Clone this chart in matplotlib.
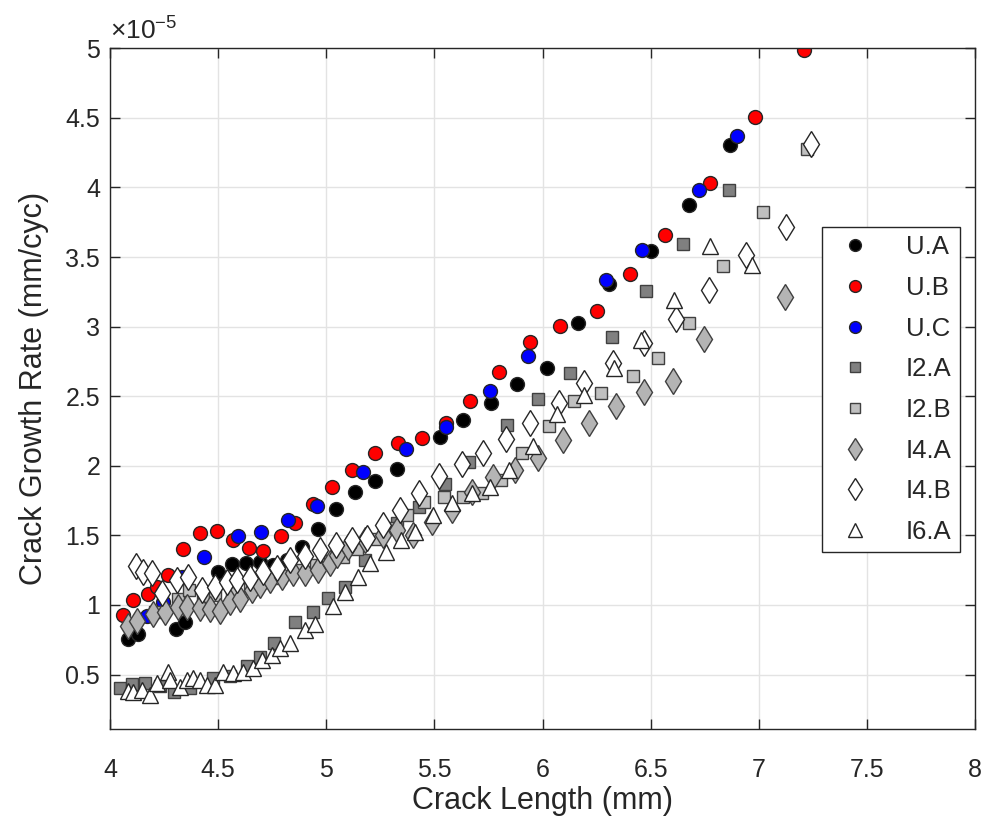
import matplotlib
matplotlib.use("Agg")
import matplotlib.pyplot as plt
from matplotlib.ticker import FuncFormatter, MultipleLocator

plt.rcParams['font.family'] = ['Liberation Sans', 'DejaVu Sans']
plt.rcParams['mathtext.fontset'] = 'custom'
plt.rcParams['mathtext.rm'] = 'Liberation Sans'
plt.rcParams['mathtext.it'] = 'Liberation Sans'

# crack length (mm) and crack growth rate (x1e-5 mm/cyc)
ua_x = [4.083, 4.130, 4.306, 4.347, 4.5, 4.565, 4.630, 4.694, 4.755, 4.819, 4.889, 4.963, 5.046,
        5.134, 5.227, 5.329, 5.528, 5.634, 5.764, 5.884, 6.019, 6.162, 6.306, 6.5, 6.676, 6.866]
ua_y = [0.755, 0.791, 0.827, 0.878, 1.237, 1.295, 1.302, 1.309, 1.288, 1.324, 1.417, 1.547, 1.691,
        1.813, 1.892, 1.978, 2.209, 2.331, 2.453, 2.590, 2.705, 3.029, 3.309, 3.540, 3.871, 4.302]

ub_x = [4.060, 4.106, 4.176, 4.218, 4.269, 4.338, 4.417, 4.495, 4.569, 4.644, 4.708, 4.792, 4.856,
        4.940, 5.028, 5.120, 5.227, 5.333, 5.444, 5.556, 5.667, 5.801, 5.940, 6.083, 6.25, 6.403,
        6.565, 6.773, 6.981, 7.208]
ub_y = [0.928, 1.036, 1.079, 1.129, 1.216, 1.403, 1.518, 1.532, 1.468, 1.410, 1.388, 1.496, 1.590,
        1.727, 1.849, 1.971, 2.094, 2.165, 2.201, 2.309, 2.468, 2.676, 2.892, 3.007, 3.115, 3.381,
        3.655, 4.029, 4.504, 4.985]

uc_x = [4.171, 4.245, 4.333, 4.435, 4.593, 4.699, 4.824, 4.958, 5.171, 5.370, 5.556, 5.755, 5.931,
        6.292, 6.458, 6.722, 6.898]
uc_y = [0.921, 1.022, 1.201, 1.345, 1.496, 1.525, 1.612, 1.712, 1.957, 2.122, 2.281, 2.540, 2.791,
        3.338, 3.547, 3.978, 4.367]

i2a_x = [4.046, 4.102, 4.162, 4.231, 4.296, 4.370, 4.477, 4.556, 4.634, 4.694, 4.759, 4.856, 4.940,
         5.009, 5.088, 5.181, 5.329, 5.431, 5.551, 5.662, 5.838, 5.977, 6.125, 6.319, 6.477, 6.648,
         6.861]
i2a_y = [0.403, 0.432, 0.439, 0.417, 0.374, 0.403, 0.475, 0.489, 0.561, 0.626, 0.727, 0.878, 0.950,
         1.050, 1.129, 1.324, 1.590, 1.705, 1.871, 2.029, 2.295, 2.482, 2.669, 2.928, 3.259, 3.597,
         3.978]

i2b_x = [4.208, 4.315, 4.366, 4.431, 4.486, 4.565, 4.648, 4.718, 4.787, 4.870, 4.954, 5.019, 5.079,
         5.144, 5.236, 5.319, 5.375, 5.454, 5.546, 5.634, 5.722, 5.806, 5.907, 6.028, 6.144, 6.269,
         6.417, 6.532, 6.676, 6.833, 7.019, 7.222]
i2b_y = [0.950, 1.043, 1.108, 1.065, 1.072, 1.086, 1.122, 1.165, 1.194, 1.252, 1.288, 1.317, 1.345,
         1.403, 1.475, 1.554, 1.647, 1.741, 1.777, 1.777, 1.806, 1.899, 2.094, 2.288, 2.468, 2.525,
         2.647, 2.777, 3.029, 3.439, 3.820, 4.273]

i4a_x = [4.083, 4.125, 4.199, 4.255, 4.315, 4.356, 4.417, 4.463, 4.509, 4.556, 4.602, 4.657, 4.694,
         4.741, 4.796, 4.847, 4.903, 4.963, 5.019, 5.051, 5.102, 5.181, 5.264, 5.329, 5.403, 5.491,
         5.583, 5.676, 5.773, 5.875, 5.981, 6.093, 6.213, 6.338, 6.468, 6.602, 6.745, 7.120]
i4a_y = [0.849, 0.885, 0.935, 0.950, 0.986, 0.986, 0.978, 0.971, 0.957, 1.022, 1.043, 1.108, 1.144,
         1.180, 1.201, 1.230, 1.230, 1.252, 1.302, 1.360, 1.417, 1.468, 1.504, 1.540, 1.504, 1.597,
         1.683, 1.813, 1.921, 1.971, 2.058, 2.187, 2.309, 2.432, 2.532, 2.612, 2.914, 3.216]

i4b_x = [4.120, 4.153, 4.194, 4.241, 4.310, 4.361, 4.426, 4.486, 4.542, 4.588, 4.648, 4.708, 4.773,
         4.833, 4.903, 4.972, 5.046, 5.120, 5.190, 5.264, 5.343, 5.431, 5.523, 5.630, 5.727, 5.833,
         5.944, 6.074, 6.194, 6.324, 6.468, 6.616, 6.769, 6.940, 7.125, 7.241]
i4b_y = [1.281, 1.237, 1.230, 1.086, 1.180, 1.201, 1.108, 1.129, 1.165, 1.180, 1.194, 1.237, 1.266,
         1.324, 1.353, 1.396, 1.432, 1.468, 1.482, 1.576, 1.683, 1.806, 1.928, 2.014, 2.094, 2.194,
         2.309, 2.453, 2.597, 2.741, 2.885, 3.058, 3.266, 3.511, 3.719, 4.309]

i6a_x = [4.083, 4.106, 4.148, 4.185, 4.218, 4.269, 4.278, 4.324, 4.356, 4.384, 4.417, 4.449, 4.486,
         4.523, 4.569, 4.616, 4.662, 4.704, 4.750, 4.787, 4.833, 4.903, 4.949, 5.032, 5.088, 5.148,
         5.204, 5.278, 5.347, 5.412, 5.495, 5.583, 5.676, 5.759, 5.847, 5.958, 6.069, 6.190, 6.329,
         6.454, 6.606, 6.773, 6.968]
i6a_y = [0.381, 0.374, 0.388, 0.353, 0.439, 0.518, 0.460, 0.410, 0.460, 0.475, 0.460, 0.424, 0.424,
         0.518, 0.511, 0.518, 0.547, 0.604, 0.640, 0.691, 0.727, 0.820, 0.863, 0.993, 1.094, 1.201,
         1.302, 1.381, 1.468, 1.525, 1.647, 1.734, 1.806, 1.849, 1.971, 2.144, 2.374, 2.511, 2.705,
         2.906, 3.194, 3.576, 3.446]

series_labels = ['U.A', 'U.B', 'U.C', 'I2.A', 'I2.B', 'I4.A', 'I4.B', 'I6.A']

fig = plt.figure(figsize=(9.9, 8.32), dpi=100)
ax = fig.add_axes([0.111, 0.124, 0.874, 0.818])

edge = '#262626'
styles = [
    dict(marker='o', ms=10, mfc='black', mec=edge),
    dict(marker='o', ms=10, mfc='#ff0000', mec=edge),
    dict(marker='o', ms=10, mfc='#0000ff', mec=edge),
    dict(marker='s', ms=8.5, mfc='#808080', mec='#404040'),
    dict(marker='s', ms=8.5, mfc='#c0c0c0', mec='#404040'),
    dict(marker='d', ms=13, mfc='#b4b4b4', mec='#404040'),
    dict(marker='d', ms=13, mfc='white', mec='#262626'),
    dict(marker='^', ms=12, mfc='white', mec='#262626'),
]
data = [(ua_x, ua_y), (ub_x, ub_y), (uc_x, uc_y), (i2a_x, i2a_y), (i2b_x, i2b_y),
        (i4a_x, i4a_y), (i4b_x, i4b_y), (i6a_x, i6a_y)]

for (xs, ys), lab, st in zip(data, series_labels, styles):
    ax.plot(xs, ys, linestyle='none', mew=1.0, label=lab, **st)

ax.set_xlim(4, 8)
ax.set_ylim(0.11, 5)
ax.xaxis.set_major_locator(MultipleLocator(0.5))
ax.yaxis.set_major_locator(MultipleLocator(0.5))
fmt = FuncFormatter(lambda v, p: '%g' % v)
ax.xaxis.set_major_formatter(fmt)
ax.yaxis.set_major_formatter(fmt)
ax.grid(True, color='#e3e3e3', linewidth=1.0)
ax.set_axisbelow(True)
ax.tick_params(direction='in', length=7, width=1, colors='#262626', labelsize=18,
               top=True, right=True, labelcolor='#262626')
ax.tick_params(axis='x', pad=21)
ax.tick_params(axis='y', pad=7)
for s in ax.spines.values():
    s.set_color('#262626')
    s.set_linewidth(1.0)

ax.set_xlabel('Crack Length (mm)', fontsize=22, color='#262626', labelpad=3)
ax.set_ylabel('Crack Growth Rate (mm/cyc)', fontsize=22, color='#262626', labelpad=12)
ax.text(0.0, 1.006, r'$\times10^{-5}$', transform=ax.transAxes, fontsize=19,
        color='#262626', ha='left', va='bottom')

leg_handles = []
for st in styles:
    s2 = dict(st)
    s2['ms'] = st['ms'] * 0.85
    h, = ax.plot([], [], linestyle='none', mew=1.0, **s2)
    leg_handles.append(h)
leg = ax.legend(leg_handles, series_labels, loc='upper right',
                bbox_to_anchor=(960 / 990, 1 - 227 / 832), bbox_transform=fig.transFigure,
                fontsize=18.5, frameon=True, fancybox=False, framealpha=1, edgecolor='#262626',
                labelspacing=0.65, handletextpad=1.0, borderpad=0.32, handlelength=1.95,
                borderaxespad=0)
leg.get_frame().set_linewidth(1.0)
for t in leg.get_texts():
    t.set_color('#262626')

fig.savefig('out.png', dpi=100, facecolor='white')
